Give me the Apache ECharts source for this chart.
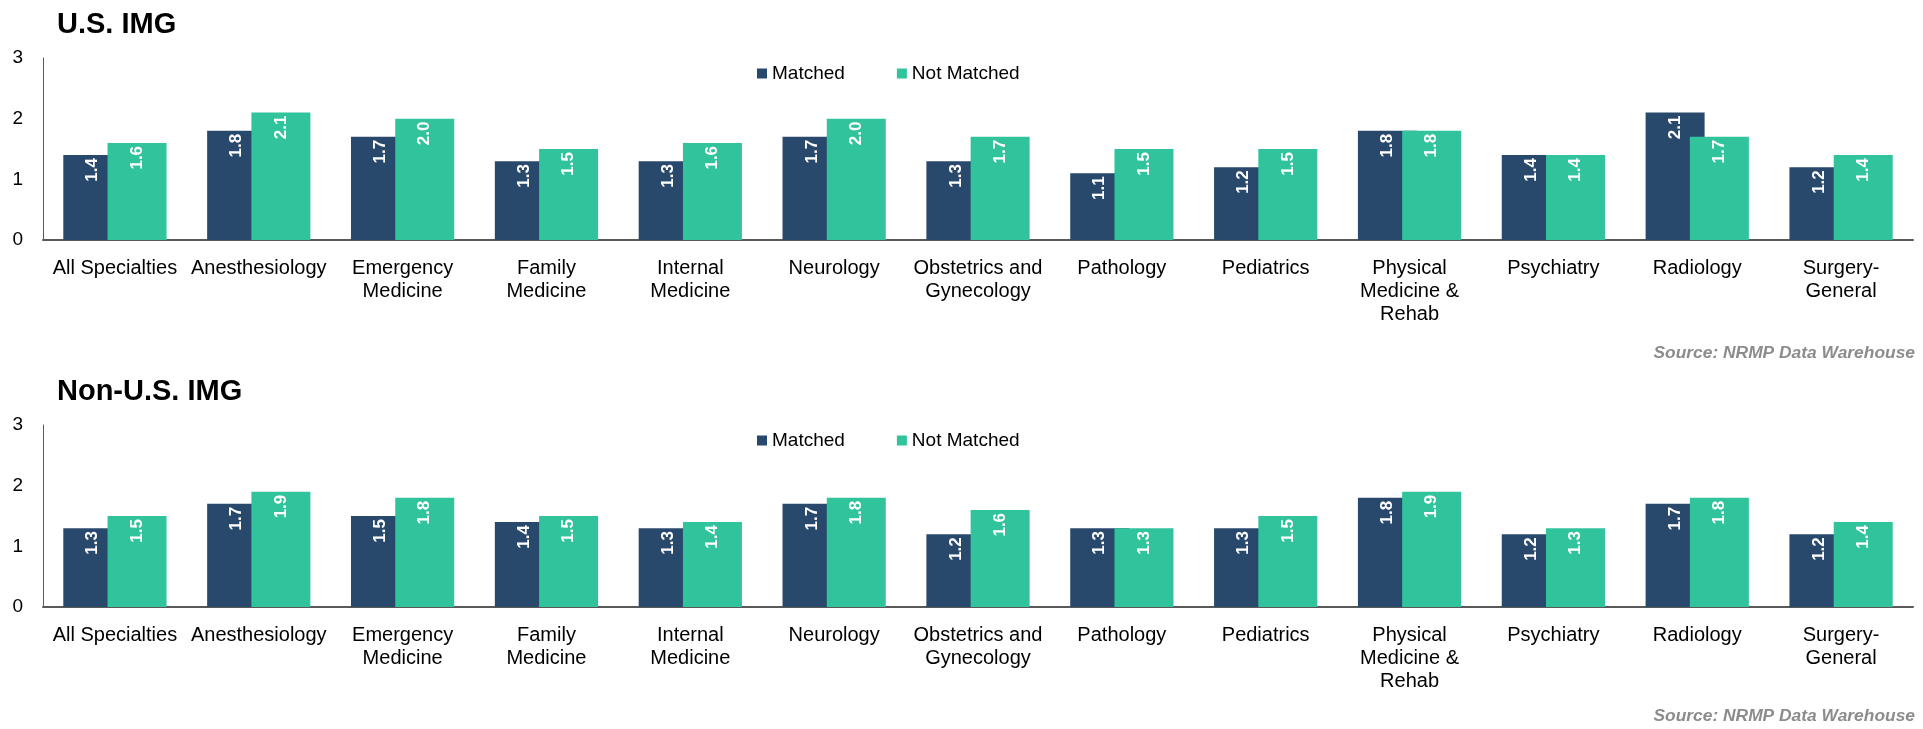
<!DOCTYPE html>
<html>
<head>
<meta charset="utf-8">
<script src="https://cdn.jsdelivr.net/npm/echarts@6/dist/echarts.min.js"></script>
<style>
  html, body { margin: 0; padding: 0; background: #fff; }
  #chart { width: 1923px; height: 729px; }
</style>
</head>
<body>
<div id="chart"></div>
<script>
var categories = [
  "All Specialties", "Anesthesiology", "Emergency\nMedicine", "Family\nMedicine",
  "Internal\nMedicine", "Neurology", "Obstetrics and\nGynecology", "Pathology",
  "Pediatrics", "Physical\nMedicine &\nRehab", "Psychiatry", "Radiology", "Surgery-\nGeneral"
];
var yTicks = [0, 1, 2, 3];

var usMatched = [1.4, 1.8, 1.7, 1.3, 1.3, 1.7, 1.3, 1.1, 1.2, 1.8, 1.4, 2.1, 1.2];
var usNotMatched = [1.6, 2.1, 2.0, 1.5, 1.6, 2.0, 1.7, 1.5, 1.5, 1.8, 1.4, 1.7, 1.4];
var nonUsMatched = [1.3, 1.7, 1.5, 1.4, 1.3, 1.7, 1.2, 1.3, 1.3, 1.8, 1.2, 1.7, 1.2];
var nonUsNotMatched = [1.5, 1.9, 1.8, 1.5, 1.4, 1.8, 1.6, 1.3, 1.5, 1.9, 1.3, 1.8, 1.4];

var FONT = "'Liberation Sans', Arial, sans-serif";
var NAVY = "#29496c";
var TEAL = "#31c39b";
var AXIS = "#595959";

var chart = echarts.init(document.getElementById("chart"));

function xAxis(idx) {
  return {
    type: "category",
    gridIndex: idx,
    data: categories,
    axisTick: { show: false },
    axisLine: { lineStyle: { color: AXIS, width: 2 } },
    axisLabel: {
      interval: 0,
      margin: 17,
      color: "#000",
      fontSize: 20,
      lineHeight: 23,
      fontFamily: FONT
    }
  };
}

function yAxis(idx) {
  return {
    type: "value",
    gridIndex: idx,
    min: yTicks[0],
    max: yTicks[yTicks.length - 1],
    interval: 1,
    splitLine: { show: false },
    axisTick: { show: false },
    axisLine: { show: true, lineStyle: { color: AXIS, width: 1 } },
    axisLabel: { margin: 20, color: "#000", fontSize: 19, fontFamily: FONT }
  };
}

function barSeries(name, color, data, idx) {
  return {
    name: name,
    type: "bar",
    xAxisIndex: idx,
    yAxisIndex: idx,
    data: data,
    barWidth: 59,
    barGap: "-25%",
    itemStyle: { color: color },
    label: {
      show: true,
      position: "insideTop",
      rotate: 90,
      align: "right",
      verticalAlign: "middle",
      distance: 3,
      color: "#fff",
      fontWeight: "bold",
      fontSize: 17,
      fontFamily: FONT,
      formatter: function (p) { return p.value.toFixed(1); }
    }
  };
}

function legend(idx, top) {
  return {
    left: 757,
    top: top,
    padding: 0,
    itemWidth: 10,
    itemHeight: 10,
    itemGap: 52,
    icon: "rect",
    data: [
      { name: "Matched", itemStyle: { color: NAVY } },
      { name: "Not Matched", itemStyle: { color: TEAL } }
    ],
    textStyle: { fontSize: 19, color: "#000", fontFamily: FONT }
  };
}

var titleStyle = { fontSize: 29, fontWeight: "bold", color: "#000", fontFamily: FONT };
var sourceStyle = { fontSize: 17.4, fontWeight: "bold", fontStyle: "italic", color: "#8c8c8c", fontFamily: FONT };

chart.setOption({
  animation: false,
  title: [
    { text: "U.S. IMG", left: 57, top: 10, padding: 0, textStyle: titleStyle },
    { text: "Non-U.S. IMG", left: 57, top: 377, padding: 0, textStyle: titleStyle },
    { text: "Source: NRMP Data Warehouse", right: 8, top: 345, padding: 0, textStyle: sourceStyle },
    { text: "Source: NRMP Data Warehouse", right: 8, top: 708, padding: 0, textStyle: sourceStyle }
  ],
  legend: [legend(0, 64), legend(1, 431)],
  grid: [
    { left: 43, right: 10, top: 58, height: 182 },
    { left: 43, right: 10, top: 425, height: 182 }
  ],
  xAxis: [xAxis(0), xAxis(1)],
  yAxis: [yAxis(0), yAxis(1)],
  series: [
    barSeries("Matched", NAVY, usMatched, 0),
    barSeries("Not Matched", TEAL, usNotMatched, 0),
    barSeries("Matched", NAVY, nonUsMatched, 1),
    barSeries("Not Matched", TEAL, nonUsNotMatched, 1)
  ]
});
</script>
</body>
</html>
